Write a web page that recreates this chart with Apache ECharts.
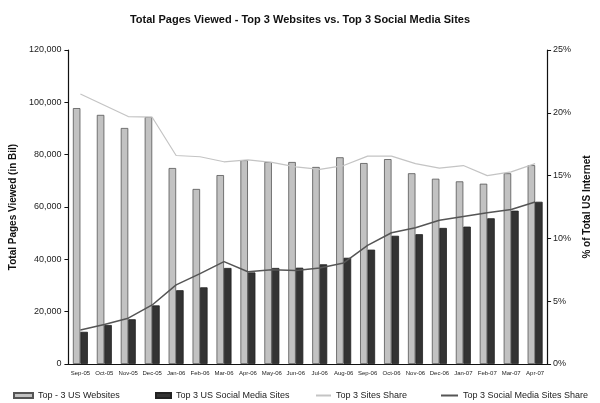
<!DOCTYPE html>
<html>
<head>
<meta charset="utf-8">
<script src="https://cdn.jsdelivr.net/npm/echarts@6/dist/echarts.min.js"></script>
<style>
  html, body { margin: 0; padding: 0; background: #fff; }
  #chart { width: 600px; height: 403px; }
</style>
</head>
<body>
<div id="chart"></div>
<script>
// data
const months = ['Sep-05', 'Oct-05', 'Nov-05', 'Dec-05', 'Jan-06', 'Feb-06', 'Mar-06', 'Apr-06', 'May-06', 'Jun-06',
  'Jul-06', 'Aug-06', 'Sep-06', 'Oct-06', 'Nov-06', 'Dec-06', 'Jan-07', 'Feb-07', 'Mar-07', 'Apr-07'];
const topWebsites = [97800, 95200, 90200, 94400, 74900, 66900, 72200, 77900, 77200, 77200,
  75300, 79000, 76800, 78300, 72900, 70800, 69800, 68900, 72900, 76000];
const topSocial = [12300, 14900, 17100, 22400, 28200, 29300, 36700, 35000, 36700, 36800,
  38100, 40600, 43700, 49000, 49600, 52000, 52500, 55700, 58600, 62000];
const sitesShare = [21.5, 20.6, 19.7, 19.65, 16.6, 16.5, 16.1, 16.25, 16.05, 15.7,
  15.5, 15.8, 16.55, 16.55, 15.95, 15.6, 15.8, 15.0, 15.3, 15.95];
const socialShare = [2.7, 3.15, 3.65, 4.7, 6.3, 7.2, 8.15, 7.35, 7.5, 7.45,
  7.65, 8.05, 9.45, 10.45, 10.85, 11.45, 11.75, 12.05, 12.3, 12.9];

const font = 'Liberation Sans, Arial, sans-serif';
const chart = echarts.init(document.getElementById('chart'));

// one legend per item so each can sit where the original has it
const legendItem = (left, name, opts) => Object.assign({
  top: 386,
  left,
  data: [name],
  itemGap: 0,
  itemHeight: 5,
  textStyle: { fontFamily: font, fontSize: 9, color: '#222' }
}, opts);

chart.setOption({
  backgroundColor: '#fff',
  animation: false,
  title: {
    text: 'Total Pages Viewed - Top 3 Websites vs. Top 3 Social Media Sites',
    left: 'center',
    top: 9,
    textStyle: { fontFamily: font, fontSize: 11, fontWeight: 'bold', color: '#111' }
  },
  legend: [
    legendItem(8, 'Top - 3 US Websites', { icon: 'rect', itemWidth: 19 }),
    legendItem(150, 'Top 3 US Social Media Sites', { icon: 'rect', itemWidth: 15 }),
    legendItem(310, 'Top 3 Sites Share', { itemWidth: 15, itemStyle: { opacity: 0 } }),
    legendItem(435, 'Top 3 Social Media Sites Share', { itemWidth: 17, itemStyle: { opacity: 0 } })
  ],
  grid: { left: 64, right: 48, top: 50, bottom: 39 },
  xAxis: {
    type: 'category',
    data: months,
    axisLine: { lineStyle: { color: '#111', width: 1.2 } },
    axisTick: { length: 4, lineStyle: { color: '#111' } },
    axisLabel: { interval: 0, fontFamily: font, fontSize: 6, color: '#222', margin: 6 }
  },
  yAxis: [
    {
      type: 'value',
      min: 0, max: 120000, interval: 20000,
      name: 'Total Pages Viewed (in Bil)',
      nameLocation: 'middle',
      nameRotate: 90,
      nameGap: 48,
      nameTextStyle: { fontFamily: font, fontSize: 10, fontWeight: 'bold', color: '#111' },
      splitLine: { show: false },
      axisLine: { show: true, lineStyle: { color: '#111', width: 1.2 } },
      axisTick: { show: true, length: 4, lineStyle: { color: '#111' } },
      axisLabel: {
        fontFamily: font, fontSize: 9, color: '#222', margin: 7,
        formatter: v => v.toLocaleString('en-US')
      }
    },
    {
      type: 'value',
      min: 0, max: 25, interval: 5,
      position: 'right',
      name: '% of Total US Internet',
      nameLocation: 'middle',
      nameRotate: 90,
      nameGap: 32,
      nameTextStyle: { fontFamily: font, fontSize: 10, fontWeight: 'bold', color: '#111' },
      splitLine: { show: false },
      axisLine: { show: true, lineStyle: { color: '#111', width: 1.2 } },
      axisTick: { show: true, length: 4, lineStyle: { color: '#111' } },
      axisLabel: { fontFamily: font, fontSize: 9, color: '#222', margin: 6, formatter: '{value}%' }
    }
  ],
  series: [
    {
      name: 'Top - 3 US Websites',
      type: 'bar',
      data: topWebsites,
      barWidth: 7.5,
      barGap: '0%',
      itemStyle: { color: '#c2c2c2', borderColor: '#555', borderWidth: 0.8 }
    },
    {
      name: 'Top 3 US Social Media Sites',
      type: 'bar',
      data: topSocial,
      barWidth: 7.5,
      barGap: '0%',
      itemStyle: { color: '#333', borderColor: '#222', borderWidth: 0.8 }
    },
    {
      name: 'Top 3 Sites Share',
      type: 'line',
      yAxisIndex: 1,
      data: sitesShare,
      symbol: 'none',
      lineStyle: { color: '#c4c4c4', width: 1.2 },
      itemStyle: { color: '#c4c4c4' }
    },
    {
      name: 'Top 3 Social Media Sites Share',
      type: 'line',
      yAxisIndex: 1,
      data: socialShare,
      symbol: 'none',
      lineStyle: { color: '#555', width: 1.5 },
      itemStyle: { color: '#555' }
    }
  ]
});
</script>
</body>
</html>
